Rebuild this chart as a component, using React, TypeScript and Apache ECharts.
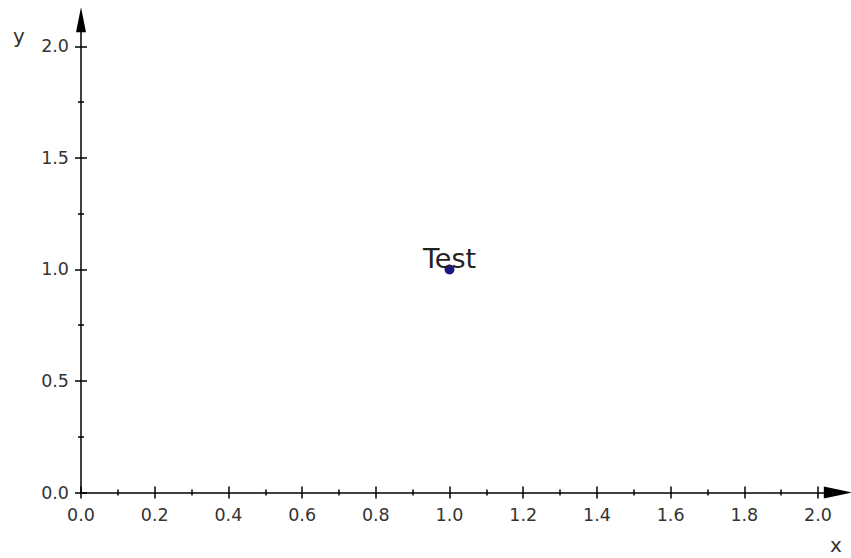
import React, { useEffect, useRef } from "react";
import * as echarts from "echarts";

const xMajorTicks = [0, 0.2, 0.4, 0.6, 0.8, 1.0, 1.2, 1.4, 1.6, 1.8, 2.0];
const xMinorTicks = [0.1, 0.3, 0.5, 0.7, 0.9, 1.1, 1.3, 1.5, 1.7, 1.9];
const yMajorTicks = [0, 0.5, 1.0, 1.5, 2.0];
const yMinorTicks = [0.25, 0.75, 1.25, 1.75];
const pointX = [1.0];
const pointY = [1.0];
const pointLabels = ["Test"];

const X_MAX = 2.055;
const Y_MAX = 2.12;
const FONT = "DejaVu Sans";
const AXIS_COLOR = "#000";
const LABEL_COLOR = "#333";

function tickAxis(kind: "x" | "y", values: number[], inside: boolean, len: number, main: boolean) {
  const base: any = {
    type: "value",
    min: 0,
    max: kind === "x" ? X_MAX : Y_MAX,
    splitLine: { show: false },
    axisLine: main
      ? {
          show: true,
          onZero: false,
          symbol: ["none", "triangle"],
          symbolSize: kind === "x" ? [12, 29] : [10, 25],
          lineStyle: { color: AXIS_COLOR, width: 1.5 },
        }
      : { show: false, onZero: false },
    axisTick: {
      show: true,
      customValues: values,
      inside,
      length: len,
      lineStyle: { color: AXIS_COLOR, width: 1.5 },
    },
    axisLabel: main
      ? {
          show: true,
          customValues: values,
          formatter: (v: number) => v.toFixed(1),
          fontFamily: FONT,
          fontSize: 17.5,
          color: LABEL_COLOR,
          margin: kind === "x" ? 13 : 12,
        }
      : { show: false },
    minorTick: { show: false },
  };
  base.position = kind === "x" ? "bottom" : "left";
  return base;
}

export default function App() {
  const ref = useRef<HTMLDivElement>(null);
  useEffect(() => {
    if (!ref.current) return;
    const chart = echarts.init(ref.current, undefined, { renderer: "svg" });
    const data = pointX.map((x, i) => ({ value: [x, pointY[i]], name: pointLabels[i] }));
    chart.setOption({
      animation: false,
      backgroundColor: "#fff",
      grid: { left: 81, right: 12.7, top: 19.7, bottom: 65.5, containLabel: false },
      xAxis: [
        tickAxis("x", xMajorTicks, false, 6, true),
        tickAxis("x", xMajorTicks, true, 6, false),
        tickAxis("x", xMinorTicks, false, 3, false),
        tickAxis("x", xMinorTicks, true, 3, false),
      ],
      yAxis: [
        tickAxis("y", yMajorTicks, false, 6, true),
        tickAxis("y", yMajorTicks, true, 6, false),
        tickAxis("y", yMinorTicks, false, 3, false),
        tickAxis("y", yMinorTicks, true, 3, false),
      ],
      graphic: [
        {
          type: "text",
          x: 19,
          y: 36,
          style: { text: "y", font: `20px ${FONT}`, fill: "#333", align: "center", verticalAlign: "middle" },
        },
        {
          type: "text",
          x: 836,
          y: 545,
          style: { text: "x", font: `20px ${FONT}`, fill: "#333", align: "center", verticalAlign: "middle" },
        },
      ],
      series: [
        {
          type: "scatter",
          xAxisIndex: 0,
          yAxisIndex: 0,
          data,
          symbol: "circle",
          symbolSize: 10,
          itemStyle: { color: "#1a1a84", opacity: 1 },
          label: {
            show: true,
            position: "inside",
            offset: [0, -11],
            formatter: (p: any) => p.name,
            fontFamily: FONT,
            fontSize: 27,
            color: "#222",
          },
        },
      ],
    });
    return () => chart.dispose();
  }, []);
  return (
    <div
      ref={ref}
      style={{ position: "fixed", left: 0, top: 0, width: 851, height: 558, background: "#fff" }}
    />
  );
}
